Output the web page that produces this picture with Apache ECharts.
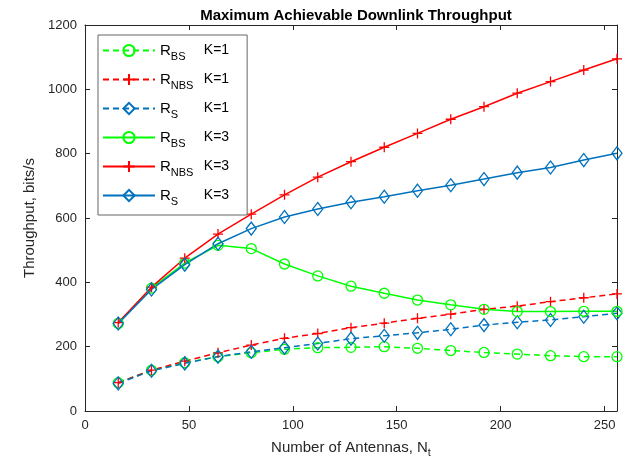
<!DOCTYPE html>
<html><head><meta charset="utf-8">
<script src="https://cdn.jsdelivr.net/npm/echarts@6/dist/echarts.min.js"></script>
<style>html,body{margin:0;padding:0;background:#fff}#c{width:631px;height:474px}</style>
</head><body><div id="c"></div>
<script>
const antennas = [16,32,48,64,80,96,112,128,144,160,176,192,208,224,240,256];
const bsK1  = [88,127,150,169,181,192,197,198,200,195,188,182,177,172,169,169];
const nbsK1 = [88,127,155,181,205,226,241,259,273,288,301,316,326,340,352,364];
const sK1   = [86,125,148,169,184,197,210,225,234,243,254,267,276,283,293,304];
const bsK3  = [272,382,460,515,505,457,420,388,366,345,330,316,309,309,310,310];
const nbsK3 = [275,385,475,550,612,672,727,775,820,863,907,946,988,1024,1060,1095];
const sK3   = [272,378,455,520,567,603,628,649,666,685,702,721,741,757,780,801];
const seriesNames = ['BS K=1','NBS K=1','S K=1','BS K=3','NBS K=3','S K=3'];

const FONT = 'Liberation Sans';
const GREEN = '#00ff00', RED = '#ff0000', BLUE = '#0072bd';
const PLUS = 'path://M5,0L5,10M0,5L10,5';

function mk(name, data, color, symbol, dashed) {
  return {
    name: name, type: 'line',
    data: antennas.map((x, i) => [x, data[i]]),
    symbol: symbol, symbolSize: symbol === 'diamond' ? [10,13] : 10,
    showAllSymbol: true,
    lineStyle: {color: color, width: 1.5, type: dashed ? [6,4] : 'solid'},
    itemStyle: {color: 'rgba(0,0,0,0)', borderColor: color, borderWidth: 1.3},
    emphasis: {disabled: true},
    animation: false
  };
}

const chart = echarts.init(document.getElementById('c'));
const axisCommon = {
  axisLine: {show: true, onZero: false, lineStyle: {color: '#262626', width: 1}},
  axisTick: {show: true, inside: true, length: 5, lineStyle: {color: '#262626'}},
  splitLine: {show: false}
};
chart.setOption({
  backgroundColor: '#fff',
  title: {text: 'Maximum Achievable Downlink Throughput', left: 351, top: 3, textAlign: 'center',
    textStyle: {fontFamily: FONT, fontSize: 15, fontWeight: 'bold', color: '#000'}},
  grid: {left: 85, right: 14, top: 25, bottom: 63},
  legend: {
    orient: 'vertical', left: 98, top: 35,
    backgroundColor: '#fff', borderColor: '#666', borderWidth: 1,
    padding: [8, 18, 8, 4],
    itemWidth: 52, itemHeight: 14, itemGap: 10,
    data: seriesNames,
    formatter: function (n) {
      const p = n.split(' ');
      return '{r|R}{s|' + p[0] + '}{k|' + p[1] + '}';
    },
    textStyle: {
      fontFamily: FONT, color: '#000',
      rich: {
        r: {fontSize: 15, fontFamily: FONT, color: '#000'},
        s: {fontSize: 11, fontFamily: FONT, color: '#000', width: 33, padding: [12, 0, 0, 0]},
        k: {fontSize: 14, fontFamily: FONT, color: '#000'}
      }
    }
  },
  xAxis: [
    Object.assign({type: 'value', min: 0, max: 256, interval: 50, position: 'bottom',
      axisLabel: {fontFamily: FONT, fontSize: 13, color: '#262626', margin: 8,
        formatter: v => (v % 50 === 0 ? String(v) : '')},
      name: '{a|Number of Antennas, N}{b|t}', nameLocation: 'middle', nameGap: 26,
      nameTextStyle: {rich: {a: {fontFamily: FONT, fontSize: 15, color: '#262626'},
        b: {fontFamily: FONT, fontSize: 11, color: '#262626', padding: [10, 0, 0, 0]}}}
    }, axisCommon),
    Object.assign({type: 'value', min: 0, max: 256, interval: 50, position: 'top',
      axisLabel: {show: false}}, axisCommon)
  ],
  yAxis: [
    Object.assign({type: 'value', min: 0, max: 1200, interval: 200, position: 'left',
      axisLabel: {fontFamily: FONT, fontSize: 13, color: '#262626', margin: 8,
        formatter: v => String(v)},
      name: 'Throughput, bits/s', nameLocation: 'middle', nameGap: 44,
      nameTextStyle: {fontFamily: FONT, fontSize: 15, color: '#262626'}
    }, axisCommon),
    Object.assign({type: 'value', min: 0, max: 1200, interval: 200, position: 'right',
      axisLabel: {show: false}}, axisCommon)
  ],
  series: [
    mk('BS K=1', bsK1, GREEN, 'circle', true),
    mk('NBS K=1', nbsK1, RED, PLUS, true),
    mk('S K=1', sK1, BLUE, 'diamond', true),
    mk('BS K=3', bsK3, GREEN, 'circle', false),
    mk('NBS K=3', nbsK3, RED, PLUS, false),
    mk('S K=3', sK3, BLUE, 'diamond', false)
  ]
});
</script></body></html>
